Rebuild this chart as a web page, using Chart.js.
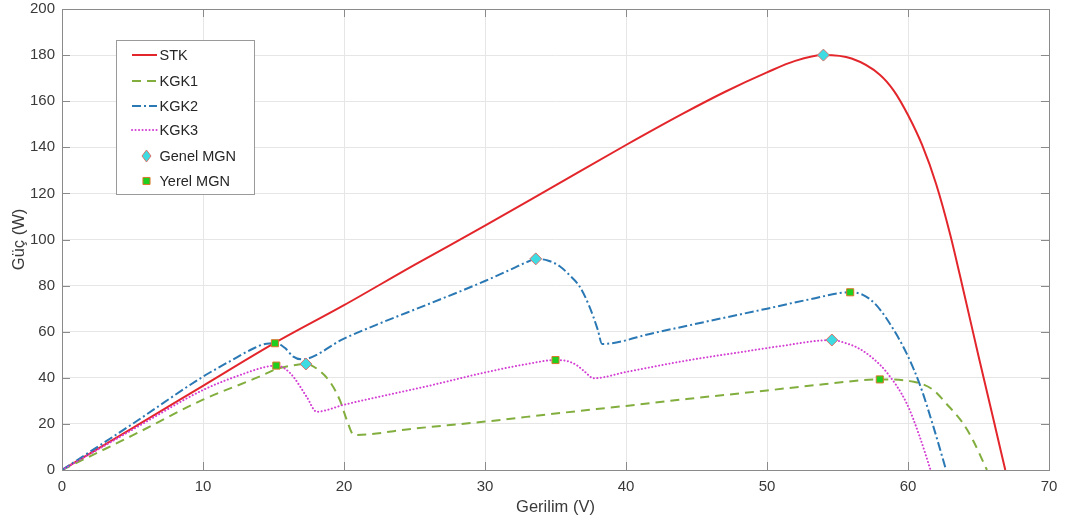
<!DOCTYPE html>
<html>
<head>
<meta charset="utf-8">
<title>Güç - Gerilim</title>
<script src="https://cdn.jsdelivr.net/npm/chart.js@4.4.0/dist/chart.umd.min.js"></script>
<style>
    html, body { margin: 0; padding: 0; background: #ffffff; }
    #wrap { width: 1076px; height: 523px; }
</style>
</head>
<body>
<div id="wrap"><canvas id="chart" width="1076" height="523"></canvas></div>
<script>
'use strict';

// axis ticks
var xTicks = [0, 10, 20, 30, 40, 50, 60, 70];
var yTicks = [0, 20, 40, 60, 80, 100, 120, 140, 160, 180, 200];

// STK (standart test kosullari)
var stkV = [0, 5, 10, 15, 20, 25, 30, 35, 40, 44, 47, 50, 52, 54, 56, 58, 59, 60, 61, 62, 63, 64, 65, 66, 66.9];
var stkP = [0, 18.2, 36.5, 54.8, 71.5, 89, 106, 123.5, 141, 154.5, 164, 172.5, 177.5, 180, 178.5, 171.5, 164.5, 154, 141, 124, 102, 76, 49.5, 23.5, 0];

// KGK1
var kgk1V = [0, 5, 10, 14, 15.2, 16.3, 17.3, 18.2, 19.0, 19.7, 20.2, 20.7, 25, 30, 35, 40, 44.3, 50, 54, 58, 60.4, 61.8, 62.7, 63.9, 64.6, 65.6];
var kgk1P = [0, 15, 30.5, 40.5, 43.8, 45.3, 46, 43.4, 38.3, 30.4, 21.7, 15.2, 18, 21, 24.5, 27.8, 30.8, 34.5, 37.2, 39.3, 38.3, 34.7, 28.9, 20.3, 13, 0];

// KGK2
var kgk2V = [0, 5, 10, 12, 13.5, 14.5, 15.2, 15.8, 16.4, 17.0, 20, 22.5, 26, 30, 32, 33, 33.6, 34.5, 35.3, 36.0, 36.7, 37.4, 38.0, 38.3, 42, 46.7, 50, 53, 55.9, 56.8, 57.6, 58.5, 59.9, 60.9, 61.8, 62.7];
var kgk2P = [0, 20, 40.5, 47.5, 52.5, 54.8, 55, 53, 49.2, 48, 57, 63.5, 72, 82, 87.5, 90.3, 91.6, 90.8, 88.4, 84.5, 79.7, 71, 60.8, 54.7, 59.5, 65.7, 70, 74, 77.1, 76, 72.5, 65.5, 50.6, 36, 18.8, 0];

// KGK3
var kgk3V = [0, 5, 10, 13, 14.5, 15.2, 15.8, 16.4, 17.35, 18.06, 20, 22.5, 26, 30, 33, 35, 35.8, 36.5, 37.1, 37.7, 40, 44.5, 48, 51, 54.6, 55.6, 56.5, 57.5, 58.5, 59.9, 60.8, 61.6];
var kgk3P = [0, 17.5, 34.7, 42, 44.8, 45.3, 44, 40.5, 31.8, 25.3, 28.3, 31.8, 36.5, 42.3, 46, 47.7, 47.3, 45.5, 42.5, 39.8, 42.5, 47.7, 51, 53.8, 56.4, 55, 52.8, 48.5, 42.3, 29, 15, 0];

// maksimum guc noktalari
var genelV = [54.0, 33.6, 17.3, 54.6];
var genelP = [180, 91.6, 46, 56.4];
var yerelV = [15.1, 15.2, 35.0, 55.9, 58.0];
var yerelP = [55, 45.3, 47.7, 77.1, 39.3];

var FONT = "'Liberation Sans', Arial, Helvetica, sans-serif";
var TEXT = '#3a3a3a';
var AXIS = '#8a8a8a';

function pts(xs, ys) {
    return xs.map(function (x, i) { return {x: x, y: ys[i]}; });
}

function lineSet(label, xs, ys, color, dash, cap, order) {
    return {
        label: label,
        data: pts(xs, ys),
        borderColor: color,
        backgroundColor: color,
        borderWidth: 2,
        borderDash: dash,
        borderCapStyle: cap,
        pointRadius: 0,
        fill: false,
        showLine: true,
        cubicInterpolationMode: 'monotone',
        order: order
    };
}

var datasets = [
    lineSet('STK', stkV, stkP, '#e3262b', [], 'butt', 4),
    lineSet('KGK1', kgk1V, kgk1P, '#82ae3e', [9, 6], 'butt', 3),
    lineSet('KGK2', kgk2V, kgk2P, '#2a78b4', [9, 3, 2, 3], 'butt', 2),
    lineSet('KGK3', kgk3V, kgk3P, '#d43fd4', [0.1, 3.4], 'round', 1),
    {
        label: 'Genel MGN',
        data: pts(genelV, genelP),
        showLine: false,
        pointStyle: 'rectRot',
        pointRadius: 6,
        pointBackgroundColor: '#3fdbe2',
        pointBorderColor: '#d9736e',
        pointBorderWidth: 1,
        order: 0
    },
    {
        label: 'Yerel MGN',
        data: pts(yerelV, yerelP),
        showLine: false,
        pointStyle: 'rect',
        pointRadius: 5,
        pointBackgroundColor: '#1fcf1f',
        pointBorderColor: '#d9782a',
        pointBorderWidth: 1,
        order: 0
    }
];

// box around the plot with inward ticks (matlab style)
var boxPlugin = {
    id: 'boxTicks',
    afterDatasetsDraw: function (chart) {
        var ctx = chart.ctx, a = chart.chartArea;
        var xs = chart.scales.x, ys = chart.scales.y;
        var len = 8;
        ctx.save();
        ctx.strokeStyle = AXIS;
        ctx.lineWidth = 1;
        ctx.beginPath();
        xTicks.forEach(function (v) {
            var px = Math.round(xs.getPixelForValue(v)) + 0.5;
            ctx.moveTo(px, a.bottom); ctx.lineTo(px, a.bottom - len);
            ctx.moveTo(px, a.top); ctx.lineTo(px, a.top + len);
        });
        yTicks.forEach(function (v) {
            var py = Math.round(ys.getPixelForValue(v)) + 0.5;
            ctx.moveTo(a.left, py); ctx.lineTo(a.left + len, py);
            ctx.moveTo(a.right, py); ctx.lineTo(a.right - len, py);
        });
        ctx.stroke();
        ctx.strokeRect(Math.round(a.left) + 0.5, Math.round(a.top) + 0.5,
            Math.round(a.right - a.left), Math.round(a.bottom - a.top));
        ctx.restore();
    }
};

// legend drawn inside the plot, top left
var legendPlugin = {
    id: 'innerLegend',
    afterDraw: function (chart) {
        var ctx = chart.ctx;
        var left = 116.5, top = 40.5, w = 138, h = 154;
        var rowY = [55, 81, 106, 130, 156, 181];
        ctx.save();
        ctx.fillStyle = '#ffffff';
        ctx.fillRect(left, top, w, h);
        ctx.strokeStyle = '#9a9a9a';
        ctx.lineWidth = 1;
        ctx.strokeRect(left, top, w, h);
        ctx.font = '14.5px ' + FONT;
        ctx.textBaseline = 'middle';
        ctx.textAlign = 'left';
        chart.data.datasets.forEach(function (ds, i) {
            var y = rowY[i];
            if (ds.showLine) {
                ctx.save();
                ctx.strokeStyle = ds.borderColor;
                ctx.lineWidth = ds.borderWidth;
                ctx.setLineDash(ds.borderDash);
                ctx.lineCap = ds.borderCapStyle;
                ctx.beginPath();
                ctx.moveTo(132, y);
                ctx.lineTo(157, y);
                ctx.stroke();
                ctx.restore();
            } else {
                var cx = 146.5, r = ds.pointRadius;
                ctx.save();
                ctx.fillStyle = ds.pointBackgroundColor;
                ctx.strokeStyle = ds.pointBorderColor;
                ctx.lineWidth = ds.pointBorderWidth;
                ctx.beginPath();
                if (ds.pointStyle === 'rectRot') {
                    ctx.moveTo(cx, y - r); ctx.lineTo(cx + r * 0.75, y);
                    ctx.lineTo(cx, y + r); ctx.lineTo(cx - r * 0.75, y);
                    ctx.closePath();
                } else {
                    var s = r * Math.SQRT1_2;
                    ctx.rect(cx - s, y - s, 2 * s, 2 * s);
                }
                ctx.fill();
                ctx.stroke();
                ctx.restore();
            }
            ctx.fillStyle = '#262626';
            ctx.fillText(ds.label, 159.5, y + 0.5);
        });
        ctx.restore();
    }
};

var chart = new Chart(document.getElementById('chart'), {
    type: 'scatter',
    data: {datasets: datasets},
    plugins: [boxPlugin, legendPlugin],
    options: {
        responsive: false,
        animation: false,
        devicePixelRatio: 1,
        layout: {padding: {top: 9, right: 27, left: 0, bottom: 0}},
        plugins: {
            legend: {display: false},
            tooltip: {enabled: false}
        },
        scales: {
            x: {
                type: 'linear',
                min: 0,
                max: 70,
                afterBuildTicks: function (scale) {
                    scale.ticks = xTicks.map(function (v) { return {value: v}; });
                },
                afterFit: function (scale) {
                    scale.height = 53;
                    scale.paddingLeft = 0;
                    scale.paddingRight = 0;
                },
                grid: {color: '#e6e6e6', drawTicks: false},
                border: {display: false},
                ticks: {color: TEXT, font: {family: FONT, size: 15}, padding: 8, maxRotation: 0},
                title: {
                    display: true,
                    text: 'Gerilim (V)',
                    color: TEXT,
                    font: {family: FONT, size: 16.5},
                    padding: {top: 0, bottom: 6}
                }
            },
            y: {
                type: 'linear',
                min: 0,
                max: 200,
                afterBuildTicks: function (scale) {
                    scale.ticks = yTicks.map(function (v) { return {value: v}; });
                },
                afterFit: function (scale) {
                    scale.width = 62;
                    scale.paddingTop = 0;
                    scale.paddingBottom = 0;
                },
                grid: {color: '#e6e6e6', drawTicks: false},
                border: {display: false},
                ticks: {color: TEXT, font: {family: FONT, size: 15}, padding: 7},
                title: {
                    display: true,
                    text: 'Güç (W)',
                    color: TEXT,
                    font: {family: FONT, size: 16.5},
                    padding: {top: 10, bottom: 0}
                }
            }
        }
    }
});
</script>
</body>
</html>
